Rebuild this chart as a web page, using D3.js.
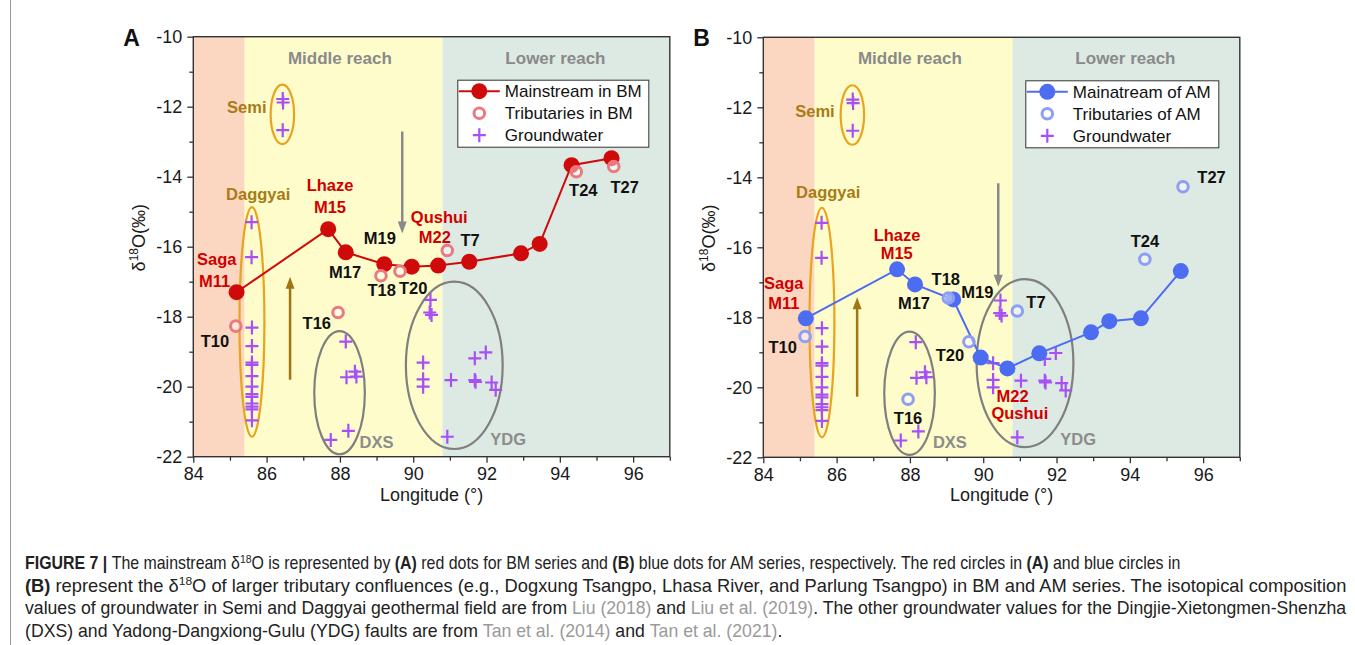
<!DOCTYPE html>
<html>
<head>
<meta charset="utf-8">
<script src="https://cdn.jsdelivr.net/npm/d3@7"></script>
<style>
  body { margin: 0; background: #fff; }
  svg { display: block; font-family: "Liberation Sans", Arial, sans-serif; }
</style>
</head>
<body>
<div id="app"></div>
<script>
// Axis ticks
const lonTicks = [84, 86, 88, 90, 92, 94, 96];
const lonMinor = [85, 87, 89, 91, 93, 95, 97];
const d18OTicks = [-10, -12, -14, -16, -18, -20, -22];
const d18OMinor = [-11, -13, -15, -17, -19, -21];

// (A) BM series
const bmMainLon = [85.18, 87.68, 88.16, 89.21, 89.96, 90.68, 91.53, 92.94, 93.45, 94.32, 95.41];
const bmMainD18O = [-17.30, -15.50, -16.16, -16.50, -16.57, -16.54, -16.43, -16.19, -15.92, -13.67, -13.47];
const bmTribLon = [85.16, 87.95, 89.12, 89.64, 90.93, 94.45, 95.47];
const bmTribD18O = [-18.27, -17.88, -16.83, -16.70, -16.11, -13.86, -13.71];

// (B) AM series
const amMainLon = [85.16, 87.65, 88.14, 89.18, 89.93, 90.66, 91.53, 92.94, 93.44, 94.30, 95.39];
const amMainD18O = [-18.03, -16.63, -17.06, -17.49, -19.15, -19.46, -19.03, -18.43, -18.11, -18.03, -16.68];
const amTribLon = [85.14, 87.95, 89.05, 89.61, 90.93, 94.41, 95.45];
const amTribD18O = [-18.55, -20.34, -17.45, -18.70, -17.82, -16.34, -14.27];

// Groundwater (Semi, Daggyai, DXS, YDG) - same in both panels
const gwLon = [86.44, 86.45, 86.44,
  85.59, 85.59, 85.60, 85.60, 85.60, 85.60, 85.60, 85.60, 85.60, 85.60, 85.60, 85.60, 85.60, 85.60,
  88.16, 88.18, 88.41, 88.45, 88.23, 87.75,
  90.47, 90.45, 90.50, 90.27, 90.27, 90.27, 91.03, 91.68, 91.98, 91.68, 91.70, 92.14, 92.25, 90.93];
const gwD18O = [-11.78, -11.88, -12.67,
  -15.30, -16.30, -18.31, -18.84, -19.31, -19.38, -19.70, -20.00, -20.21, -20.29, -20.48, -20.57, -20.65, -20.96,
  -18.71, -19.73, -19.57, -19.71, -21.26, -21.52,
  -17.52, -17.88, -17.95, -19.31, -19.79, -20.00, -19.81, -19.19, -19.02, -19.81, -19.86, -19.88, -20.09, -21.43];

// River reaches (longitude bounds)
const reachBounds = [84, 85.4, 90.8, 97];
const reachFills = ["#fbd6c1", "#fefccb", "#dde9e3"];

const svg = d3.select("#app")
  .append("svg")
  .attr("width", 1355)
  .attr("height", 645);

svg.append("rect").attr("width", 1355).attr("height", 645).attr("fill", "#fff");
// figure frame on the left
svg.append("line").attr("x1", 10.5).attr("x2", 10.5).attr("y1", 0).attr("y2", 645)
  .attr("stroke", "#9a9a9a").attr("stroke-width", 1);

const gold = "#a87b14";

function drawPanel(p) {
  const x = d3.scaleLinear().domain([84, 97]).range([p.left, p.left + 476.5]);
  const y = d3.scaleLinear().domain([-22, -10]).range([p.top + 420, p.top]);
  const g = svg.append("g");

  // Reach shading
  g.append("g").selectAll("rect")
    .data(reachFills)
    .join("rect")
    .attr("x", (d, i) => x(reachBounds[i]))
    .attr("width", (d, i) => x(reachBounds[i + 1]) - x(reachBounds[i]))
    .attr("y", y(-10))
    .attr("height", y(-22) - y(-10))
    .attr("fill", (d) => d);

  g.append("text").attr("x", x(88.0)).attr("y", y(-10.6) + 6)
    .attr("text-anchor", "middle").attr("font-weight", "bold").attr("font-size", 17)
    .attr("fill", "#8a8a8a").text("Middle reach");
  g.append("text").attr("x", x(93.88)).attr("y", y(-10.6) + 6)
    .attr("text-anchor", "middle").attr("font-weight", "bold").attr("font-size", 17)
    .attr("fill", "#8a8a8a").text("Lower reach");

  // Field ellipses
  g.append("g").selectAll("ellipse")
    .data(p.ellipses)
    .join("ellipse")
    .attr("cx", (d) => x(d.lon))
    .attr("cy", (d) => y(d.d18o))
    .attr("rx", (d) => x(d.lon + d.dLon) - x(d.lon))
    .attr("ry", (d) => y(d.d18o - d.dD18O) - y(d.d18o))
    .attr("fill", "none")
    .attr("stroke", (d) => d.color)
    .attr("stroke-width", 2.2);

  // Arrows
  p.arrows.forEach((a) => {
    const x0 = x(a.lon), y0 = y(a.from), y1 = y(a.to);
    const dir = y1 < y0 ? -1 : 1;
    g.append("line")
      .attr("x1", x0).attr("x2", x0)
      .attr("y1", y0).attr("y2", y1 - dir * 10)
      .attr("stroke", a.color).attr("stroke-width", 2.5);
    g.append("path")
      .attr("d", `M${x0},${y1}L${x0 - 4.5},${y1 - dir * 12}L${x0 + 4.5},${y1 - dir * 12}Z`)
      .attr("fill", a.color);
  });

  // Groundwater crosses
  g.append("g").selectAll("path")
    .data(d3.zip(gwLon, gwD18O))
    .join("path")
    .attr("transform", (d) => `translate(${x(d[0])},${y(d[1])})`)
    .attr("d", "M-6.5,0H6.5M0,-7V7")
    .attr("stroke", "#a84ff5")
    .attr("stroke-width", 2.2)
    .attr("fill", "none");

  // Mainstream line and dots
  const main = d3.zip(p.mainLon, p.mainD18O);
  g.append("path")
    .datum(main)
    .attr("d", d3.line().x((d) => x(d[0])).y((d) => y(d[1])))
    .attr("fill", "none")
    .attr("stroke", p.mainColor)
    .attr("stroke-width", 2);
  g.append("g").selectAll("circle")
    .data(main)
    .join("circle")
    .attr("cx", (d) => x(d[0]))
    .attr("cy", (d) => y(d[1]))
    .attr("r", 8)
    .attr("fill", p.mainColor);

  // Tributaries
  g.append("g").selectAll("circle")
    .data(d3.zip(p.tribLon, p.tribD18O))
    .join("circle")
    .attr("cx", (d) => x(d[0]))
    .attr("cy", (d) => y(d[1]))
    .attr("r", 5.3)
    .attr("fill", "#fff")
    .attr("fill-opacity", 0.45)
    .attr("stroke", p.tribColor)
    .attr("stroke-width", 3);

  // Point / field labels
  g.append("g").selectAll("text")
    .data(p.labels)
    .join("text")
    .attr("x", (d) => x(d.lon))
    .attr("y", (d) => y(d.d18o) + 6)
    .attr("text-anchor", "middle")
    .attr("font-weight", "bold")
    .attr("font-size", 16.5)
    .attr("fill", (d) => d.color)
    .text((d) => d.text);

  // Axes (major and minor ticks in separate groups), plain hyphen minus signs
  const axisColor = "#333";
  const plain = (d) => String(d);
  const xMajor = g.append("g").attr("transform", `translate(0,${y(-22)})`)
    .call(d3.axisBottom(x).tickValues(lonTicks).tickSize(6).tickPadding(5).tickFormat(plain));
  const xMinor = g.append("g").attr("transform", `translate(0,${y(-22)})`)
    .call(d3.axisBottom(x).tickValues(lonMinor).tickSize(4).tickFormat(""));
  const yMajor = g.append("g").attr("transform", `translate(${x(84)},0)`)
    .call(d3.axisLeft(y).tickValues(d18OTicks).tickSize(6).tickPadding(5).tickFormat(plain));
  const yMinor = g.append("g").attr("transform", `translate(${x(84)},0)`)
    .call(d3.axisLeft(y).tickValues(d18OMinor).tickSize(4).tickFormat(""));
  [xMajor, xMinor, yMajor, yMinor].forEach((ax) => {
    ax.selectAll(".domain").remove();
    ax.selectAll("line").attr("stroke", axisColor).attr("stroke-width", 1.3);
    ax.selectAll("text").attr("font-size", 18).attr("fill", "#1a1a1a")
      .attr("font-family", "'Liberation Sans', Arial, sans-serif");
  });
  g.append("rect")
    .attr("x", x(84)).attr("y", y(-10))
    .attr("width", x(97) - x(84)).attr("height", y(-22) - y(-10))
    .attr("fill", "none").attr("stroke", axisColor).attr("stroke-width", 1.4);

  g.append("text")
    .attr("x", (x(84) + x(97)) / 2).attr("y", y(-22) + 44)
    .attr("text-anchor", "middle").attr("font-size", 18).attr("fill", "#1a1a1a")
    .text("Longitude (°)");
  const yt = g.append("text")
    .attr("transform", `translate(${x(84) - 48},${y(-16) - 9}) rotate(-90)`)
    .attr("text-anchor", "middle").attr("font-size", 18).attr("fill", "#1a1a1a");
  yt.append("tspan").text("δ");
  yt.append("tspan").attr("font-size", 12).attr("dy", -7).text("18");
  yt.append("tspan").attr("dy", 7).text("O(‰)");

  g.append("text")
    .attr("x", x(84) - 70).attr("y", y(-10) + 9)
    .attr("font-weight", "bold").attr("font-size", 23).attr("fill", "#111")
    .text(p.letter);

  // Legend
  const lw = p.legendWidth;
  const lg = g.append("g").attr("transform", `translate(${x(97) - 21 - lw},${y(-10) + 43.5})`);
  lg.append("rect").attr("width", lw).attr("height", 67)
    .attr("fill", "#fff").attr("stroke", "#333").attr("stroke-width", 1);
  lg.append("line").attr("x1", 1).attr("x2", 42).attr("y1", 11).attr("y2", 11)
    .attr("stroke", p.mainColor).attr("stroke-width", 2);
  lg.append("circle").attr("cx", 21.5).attr("cy", 11).attr("r", 8).attr("fill", p.mainColor);
  lg.append("circle").attr("cx", 21.5).attr("cy", 33).attr("r", 5.3)
    .attr("fill", "#fff").attr("stroke", p.tribColor).attr("stroke-width", 3);
  lg.append("path").attr("transform", "translate(21.5,55)")
    .attr("d", "M-6.5,0H6.5M0,-7V7").attr("stroke", "#a84ff5").attr("stroke-width", 2.2);
  lg.selectAll("text.entry")
    .data(p.legendNames)
    .join("text")
    .attr("class", "entry")
    .attr("x", 47)
    .attr("y", (d, i) => 11 + i * 22 + 6)
    .attr("font-size", 17)
    .attr("fill", "#111")
    .text((d) => d);
}

const semiEllipse = { lon: 86.43, d18o: -12.22, dLon: 0.32, dD18O: 0.85, color: "#e8a31f" };
const daggyaiEllipse = { lon: 85.6, d18o: -18.15, dLon: 0.34, dD18O: 3.28, color: "#e8a31f" };
const dxsEllipse = { lon: 87.99, d18o: -20.17, dLon: 0.69, dD18O: 1.76, color: "#7f7f7f" };

drawPanel({
  letter: "A",
  left: 193.3,
  top: 36.7,
  mainLon: bmMainLon, mainD18O: bmMainD18O,
  tribLon: bmTribLon, tribD18O: bmTribD18O,
  mainColor: "#cf0a0a",
  tribColor: "#ea7a80",
  legendWidth: 191,
  legendNames: ["Mainstream in BM", "Tributaries in BM", "Groundwater"],
  ellipses: [semiEllipse, daggyaiEllipse, dxsEllipse,
    { lon: 91.12, d18o: -19.39, dLon: 1.32, dD18O: 2.39, color: "#7f7f7f" }],
  arrows: [
    { lon: 86.64, from: -19.8, to: -16.86, color: "#a27414" },
    { lon: 89.7, from: -12.71, to: -15.62, color: "#8a8a8a" }
  ],
  labels: [
    { text: "Semi", lon: 85.46, d18o: -12.02, color: gold },
    { text: "Daggyai", lon: 85.77, d18o: -14.49, color: gold },
    { text: "Lhaze", lon: 87.73, d18o: -14.25, color: "#d00000" },
    { text: "M15", lon: 87.73, d18o: -14.86, color: "#d00000" },
    { text: "Saga", lon: 84.64, d18o: -16.36, color: "#d00000" },
    { text: "M11", lon: 84.58, d18o: -16.97, color: "#d00000" },
    { text: "T10", lon: 84.59, d18o: -18.69, color: "#111" },
    { text: "T16", lon: 87.37, d18o: -18.19, color: "#111" },
    { text: "M17", lon: 88.14, d18o: -16.71, color: "#111" },
    { text: "M19", lon: 89.09, d18o: -15.75, color: "#111" },
    { text: "T18", lon: 89.14, d18o: -17.24, color: "#111" },
    { text: "T20", lon: 90.0, d18o: -17.19, color: "#111" },
    { text: "Qushui", lon: 90.71, d18o: -15.14, color: "#d00000" },
    { text: "M22", lon: 90.59, d18o: -15.71, color: "#d00000" },
    { text: "T7", lon: 91.55, d18o: -15.81, color: "#111" },
    { text: "T24", lon: 94.64, d18o: -14.38, color: "#111" },
    { text: "T27", lon: 95.77, d18o: -14.29, color: "#111" },
    { text: "DXS", lon: 89.0, d18o: -21.57, color: "#8c8c8c" },
    { text: "YDG", lon: 92.59, d18o: -21.5, color: "#8c8c8c" }
  ]
});

drawPanel({
  letter: "B",
  left: 763.3,
  top: 37.3,
  mainLon: amMainLon, mainD18O: amMainD18O,
  tribLon: amTribLon, tribD18O: amTribD18O,
  mainColor: "#4c6cf2",
  tribColor: "#8c9ef5",
  legendWidth: 193,
  legendNames: ["Mainatream of AM", "Tributaries of AM", "Groundwater"],
  ellipses: [semiEllipse, daggyaiEllipse, dxsEllipse,
    { lon: 91.14, d18o: -19.31, dLon: 1.32, dD18O: 2.4, color: "#7f7f7f" }],
  arrows: [
    { lon: 86.56, from: -20.27, to: -17.43, color: "#a27414" },
    { lon: 90.41, from: -14.17, to: -17.13, color: "#8a8a8a" }
  ],
  labels: [
    { text: "Semi", lon: 85.41, d18o: -12.1, color: gold },
    { text: "Daggyai", lon: 85.77, d18o: -14.41, color: gold },
    { text: "Lhaze", lon: 87.65, d18o: -15.65, color: "#d00000" },
    { text: "M15", lon: 87.64, d18o: -16.15, color: "#d00000" },
    { text: "Saga", lon: 84.56, d18o: -17.03, color: "#d00000" },
    { text: "M11", lon: 84.56, d18o: -17.58, color: "#d00000" },
    { text: "T10", lon: 84.53, d18o: -18.84, color: "#111" },
    { text: "T16", lon: 87.95, d18o: -20.89, color: "#111" },
    { text: "M17", lon: 88.11, d18o: -17.6, color: "#111" },
    { text: "T18", lon: 88.98, d18o: -16.91, color: "#111" },
    { text: "M19", lon: 89.84, d18o: -17.27, color: "#111" },
    { text: "T20", lon: 89.09, d18o: -19.08, color: "#111" },
    { text: "T7", lon: 91.44, d18o: -17.55, color: "#111" },
    { text: "M22", lon: 90.8, d18o: -20.25, color: "#d00000" },
    { text: "Qushui", lon: 91.0, d18o: -20.74, color: "#d00000" },
    { text: "T24", lon: 94.41, d18o: -15.81, color: "#111" },
    { text: "T27", lon: 96.23, d18o: -14.0, color: "#111" },
    { text: "DXS", lon: 89.09, d18o: -21.55, color: "#8c8c8c" },
    { text: "YDG", lon: 92.59, d18o: -21.49, color: "#8c8c8c" }
  ]
});

// Caption (each line stretched to its width in the reference)
const captionLines = [
  { end: 1181, parts: [
    ["FIGURE 7 | ", "b"], ["The mainstream δ"], ["18", "sup"], ["O is represented by "], ["(A)", "b"],
    [" red dots for BM series and "], ["(B)", "b"], [" blue dots for AM series, respectively. The red circles in "],
    ["(A)", "b"], [" and blue circles in"]] },
  { end: 1347, parts: [
    ["(B)", "b"], [" represent the δ"], ["18", "sup"],
    ["O of larger tributary confluences (e.g., Dogxung Tsangpo, Lhasa River, and Parlung Tsangpo) in BM and AM series. The isotopical composition"]] },
  { end: 1347, parts: [
    ["values of groundwater in Semi and Daggyai geothermal field are from "], ["Liu (2018)", "g"], [" and "],
    ["Liu et al. (2019)", "g"], [". The other groundwater values for the Dingjie-Xietongmen-Shenzha"]] },
  { end: 782, parts: [
    ["(DXS) and Yadong-Dangxiong-Gulu (YDG) faults are from "], ["Tan et al. (2014)", "g"], [" and "],
    ["Tan et al. (2021)", "g"], ["."]] }
];

captionLines.forEach((line, i) => {
  const base = 569 + i * 22.6;
  const t = svg.append("text")
    .attr("x", 0).attr("y", 0)
    .attr("font-size", 17.5)
    .attr("fill", "#222");
  let raised = false;
  line.parts.forEach(([txt, kind]) => {
    const s = t.append("tspan").text(txt);
    if (kind === "b") s.attr("font-weight", "bold");
    if (kind === "g") s.attr("fill", "#9a9a9a");
    if (kind === "sup") { s.attr("font-size", 11.5).attr("dy", -6.5); raised = true; }
    else if (raised) { s.attr("dy", 6.5); raised = false; }
  });
  const measured = t.node().getComputedTextLength();
  const k = (line.end - 25) / measured;
  t.attr("transform", `translate(25,${base}) scale(${k},1)`);
});
</script>
</body>
</html>
